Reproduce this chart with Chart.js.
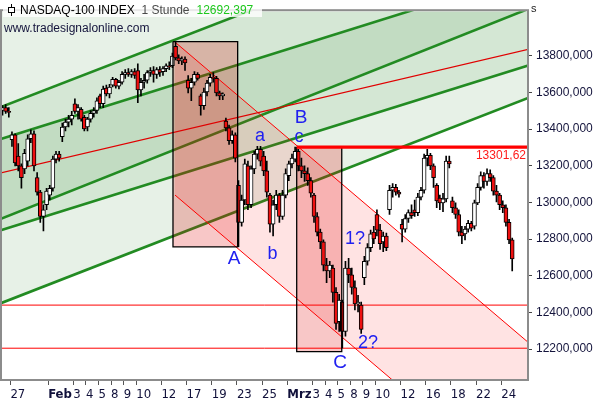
<!DOCTYPE html>
<html><head><meta charset="utf-8">
<script src="https://cdn.jsdelivr.net/npm/chart.js@4.4.0/dist/chart.umd.min.js"></script>
<style>html,body{margin:0;padding:0;background:#fff;}canvas{display:block;}</style>
</head><body>
<canvas id="c" width="600" height="400"></canvas>
<script>
// ---------- axis ticks ----------
const tickDays   = [0, 3, 5, 6, 7, 8, 9, 10, 12, 14, 16, 18, 20, 22, 24, 25, 26, 27, 28, 29, 31, 33, 35, 37, 39];
const tickLabels = ['27','Feb','3','4','5','8','9','10','12','17','19','23','25','Mrz','3','4','5','8','9','10','12','16','18','22','24'];
const priceTicks = [12200, 12400, 12600, 12800, 13000, 13200, 13400, 13600, 13800];

// ---------- hourly candles (4 per trading day, starting late on day -1) ----------
const open = [
 13501,13517,13496,
 13342,13369,13252,13199, 13183,13225,13347,13374, 13135,13056,12923,12987, 13040,13077,13236,13263,
 13358,13411,13438,13454, 13538,13496,13507,13464, 13411,13454,13485,13501, 13581,13538,13623,13591,
 13639,13671,13634,13655, 13698,13708,13698,13713, 13719,13613,13655,13666, 13708,13719,13698,13724,
 13713,13729,13745,13745, 13851,13788,13772,13782, 13666,13623,13655,13698, 13581,13528,13602,13650,
 13682,13676,13597,13581, 13443,13406,13337,13369, 13093,12891,13013,13199, 12987,13183,13263,13289,
 13252,13172,13040,12881, 12987,13040,12923,13040, 13146,13210,13236,13278, 13199,13172,13157,13119,
 13040,12923,12838,12785, 12658,12626,12642,12509, 12350,12456,12297,12642, 12605,12536,12446,12440,
 12589,12679,12753,12838, 12934,12849,12785,12817, 12960,13066,13082,13056, 12881,12854,12912,12944,
 12960,12944,13029,13066, 13241,13257,13199,13093, 13024,12997,13019,13225, 13008,12971,12934,12838,
 12828,12854,12886,12870, 12997,13082,13146,13114, 13157,13135,13061,13040, 12987,12971,12891,12796
];
const high = [
 13528,13533,13517,
 13385,13374,13321,13210, 13289,13369,13395,13390, 13162,13066,12987,13077, 13093,13252,13278,13278,
 13432,13454,13475,13496, 13565,13533,13517,13475, 13464,13501,13517,13570, 13591,13634,13639,13644,
 13682,13676,13666,13713, 13724,13729,13724,13729, 13756,13676,13698,13719, 13735,13740,13735,13740,
 13740,13756,13767,13814, 13875,13804,13793,13793, 13692,13676,13713,13708, 13591,13623,13666,13698,
 13708,13687,13607,13597, 13459,13422,13390,13379, 13119,13040,13236,13225, 13199,13278,13305,13305,
 13278,13225,13050,13013, 13066,13050,13066,13183, 13225,13263,13301.62,13289, 13241,13199,13188,13135,
 13050,12944,12854,12796, 12695,12679,12658,12536, 12499,12467,12679,12695, 12642,12573,12493,12456,
 12706,12775,12849,12870, 12960,12881,12838,12833, 13093,13103,13098,13066, 12907,12934,12960,12987,
 13013,13050,13082,13263, 13289,13268,13210,13103, 13040,13050,13252,13252, 13029,12997,12960,12870,
 12870,12902,12897,13013, 13103,13167,13162,13183, 13178,13146,13093,13050, 13008,12987,12907,12806
];
const low = [
 13475,13485,13464,
 13305,13199,13172,13077, 13157,13199,13326,13172, 13040,12891,12844,12960, 13013,13061,13215,13225,
 13331,13390,13411,13422, 13485,13454,13443,13390, 13390,13438,13464,13485, 13517,13517,13581,13570,
 13629,13623,13618,13644, 13676,13687,13682,13676, 13544,13581,13623,13650, 13687,13655,13676,13687,
 13692,13713,13724,13735, 13777,13756,13751,13719, 13597,13554,13639,13666, 13475,13507,13581,13634,
 13655,13581,13560,13560, 13390,13316,13321,13220, 12759,12870,12987,12960, 12971,13157,13236,13199,
 13146,13029,12838,12817, 12960,12891,12907,13024, 13119,13188,13220,13172, 13135,13114,13093,13029,
 12891,12817,12748,12626, 12562,12589,12456,12308, 12297,12207,12271,12562, 12499,12414,12403,12286,
 12552,12658,12732,12775, 12817,12743,12732,12737, 12934,13029,13040,13029, 12785,12838,12891,12912,
 12923,12928,13013,13050, 13199,13178,13082,12971, 12960,12950,13003,13188, 12944,12912,12817,12775,
 12796,12838,12844,12854, 12987,13066,13077,13093, 13114,13040,13003,12960, 12944,12870,12775,12626
];
const close = [
 13517,13496,13491,
 13369,13215,13199,13135, 13268,13347,13374,13199, 13056,12923,12960,13061, 13077,13236,13263,13241,
 13411,13438,13454,13475, 13496,13517,13454,13401, 13454,13485,13501,13554, 13538,13618,13591,13629,
 13671,13634,13655,13698, 13708,13698,13713,13692, 13613,13655,13666,13708, 13719,13698,13724,13708,
 13729,13745,13740,13798, 13788,13772,13782,13761, 13623,13655,13698,13676, 13528,13602,13650,13682,
 13676,13597,13581,13591, 13406,13337,13369,13241, 12891,13013,13210,12987, 13183,13263,13289,13225,
 13172,13056,12881,12987, 13040,12923,13040,13157, 13210,13241,13278,13199, 13172,13157,13119,13050,
 12923,12838,12785,12658, 12626,12658,12509,12340, 12467,12297,12642,12605, 12536,12446,12456,12308,
 12679,12753,12828,12801, 12849,12775,12817,12753, 13066,13082,13056,13045, 12854,12912,12944,12928,
 12944,13029,13066,13241, 13257,13199,13135,13008, 12997,13019,13225,13210, 12971,12934,12838,12817,
 12854,12886,12859,12997, 13082,13146,13114,13157, 13135,13061,13040,12987, 12971,12891,12796,12692.4
];
const barsPerDay = 4;
const firstSlot = 1;              // first visible slot of day -1
const candleDay = open.map((_, i) => -1 + (i + firstSlot + 0.5) / barsPerDay);

// ---------- drawn lines (day, price) ----------
const lineDays  = [-1, 42];
const greenT    = [13513, 14655];
const greenP1   = [13340, 14264];
const redMid    = [13157, 13848];
const greenQ1   = [12904, 14078];
const greenP2   = [12843, 13765];
const greenQ2   = [12444, 13592];
const downDays  = [13.08, 42];
const downUpper = [13874, 12187];
const downLower = [13040, 11352];
const box1Days  = [12.92, 18.06];
const box1Price = [12757, 13876];
const box2Days  = [22.75, 26.33];
const box2Price = [12186, 13301.62];
const resistance = 13301.62;
const resistanceDays = [22.75, 42];
const supportLevels = [12440, 12205];
const lastValue = 12692.397;

// ---------- wave labels ----------
const waveText  = ['A', 'a', 'b', 'c', 'B', 'C', '1?', '2?'];
const waveDay   = [17.77, 19.83, 20.83, 22.93, 23.09, 26.19, 27.38, 28.41];
const wavePrice = [12695, 13361, 12716, 13358, 13459, 12127, 12798, 12231];
const waveSize  = [19, 18, 18, 18, 19, 19, 18, 18];

// ---------- helpers ----------
function pts(xs, ys) { return xs.map((x, i) => ({x: x, y: ys[i]})); }
function line(xs, ys, o) {
  return Object.assign({type: 'line', data: pts(xs, ys), pointRadius: 0, tension: 0,
    borderWidth: 0, borderColor: 'transparent', fill: false}, o);
}
const datasets = [];
// green bands (fills only)
datasets.push(line(lineDays, greenT,  {fill: 'end', backgroundColor: '#e7f1e7', order: 100}));
datasets.push(line(lineDays, greenP1, {fill: '-1',  backgroundColor: '#d5e7d5', order: 100}));
datasets.push(line(lineDays, greenQ1, {fill: '-1',  backgroundColor: '#c2dcc2', order: 100}));
datasets.push(line(lineDays, greenP2, {fill: '-1',  backgroundColor: '#d4e7d4', order: 100}));
datasets.push(line(lineDays, greenQ2, {fill: '-1',  backgroundColor: '#e7f1e7', order: 100}));
// green strokes
[greenT, greenP1, greenQ1, greenP2, greenQ2].forEach(g =>
  datasets.push(line(lineDays, g, {borderColor: '#228b22', borderWidth: 2.6, order: 95})));
// down channel fill
datasets.push(line(downDays, downUpper, {order: 90}));
datasets.push(line(downDays, downLower, {fill: '-1', backgroundColor: 'rgba(255,0,0,0.11)', order: 90}));
// boxes fill
datasets.push(line(box1Days, [box1Price[0], box1Price[0]], {order: 85}));
datasets.push(line(box1Days, [box1Price[1], box1Price[1]], {fill: '-1', backgroundColor: 'rgba(225,0,0,0.22)', order: 85}));
datasets.push(line(box2Days, [box2Price[0], box2Price[0]], {order: 85}));
datasets.push(line(box2Days, [box2Price[1], box2Price[1]], {fill: '-1', backgroundColor: 'rgba(225,0,0,0.22)', order: 85}));
// thin red lines
datasets.push(line(lineDays, redMid, {borderColor: '#e00000', borderWidth: 1.1, order: 70}));
datasets.push(line(downDays, downUpper, {borderColor: '#ff0000', borderWidth: 1, order: 70}));
datasets.push(line(downDays, downLower, {borderColor: '#ff0000', borderWidth: 1, order: 70}));
supportLevels.forEach(s =>
  datasets.push(line(lineDays, [s, s], {borderColor: '#ff0000', borderWidth: 1, order: 70})));
// candles
datasets.push({type: 'bar', grouped: false, order: 60, barThickness: 1,
  data: candleDay.map((d, i) => ({x: d, y: [low[i], high[i]]})),
  backgroundColor: '#000', borderWidth: 0});
datasets.push({type: 'bar', grouped: false, order: 55, barThickness: 4,
  data: candleDay.map((d, i) => ({x: d, y: [open[i], close[i]]})),
  backgroundColor: close.map((c, i) => c >= open[i] ? '#ffffff' : '#ee1010'),
  borderColor: '#000', borderWidth: 1, borderSkipped: false});
// box borders
[[box1Days, box1Price], [box2Days, box2Price]].forEach(([bx, by]) =>
  datasets.push(line([bx[0], bx[1], bx[1], bx[0], bx[0]], [by[1], by[1], by[0], by[0], by[1]],
    {borderColor: '#000', borderWidth: 1.3, order: 50})));
// resistance
datasets.push(line(resistanceDays, [resistance, resistance], {borderColor: '#ff0000', borderWidth: 3.2, order: 45}));

const fmt = v => v.toFixed(3).replace('.', ',');
const narrow = '"Liberation Sans Narrow", "Arial Narrow", "DejaVu Sans Condensed", sans-serif';
const sans = '"Liberation Sans", Arial, sans-serif';

const deco = {
  id: 'deco',
  afterDatasetsDraw(chart) {
    const {ctx, scales: {x, y}, chartArea: a} = chart;
    ctx.save();
    ctx.fillStyle = '#2020f0';
    ctx.textAlign = 'center';
    ctx.textBaseline = 'middle';
    waveText.forEach((t, i) => {
      ctx.font = waveSize[i] + 'px ' + sans;
      ctx.fillText(t, x.getPixelForValue(waveDay[i]), y.getPixelForValue(wavePrice[i]));
    });
    ctx.font = '12px ' + sans;
    ctx.fillStyle = '#ff1a1a';
    ctx.textAlign = 'right';
    ctx.textBaseline = 'alphabetic';
    ctx.fillText(resistance.toFixed(2).replace('.', ','), a.right - 1, y.getPixelForValue(resistance) + 12);
    ctx.restore();
  },
  afterDraw(chart) {
    const {ctx, chartArea: a} = chart;
    ctx.save();
    // frame
    ctx.strokeStyle = '#8c8c8c';
    ctx.lineWidth = 2;
    ctx.strokeRect(a.left - 1, a.top - 1, a.right - a.left + 2, a.bottom - a.top + 2);
    // title box
    ctx.fillStyle = 'rgba(255,255,255,0.8)';
    ctx.fillRect(3, 2, 259, 15);
    // candle icon
    ctx.strokeStyle = '#000'; ctx.lineWidth = 1;
    ctx.beginPath(); ctx.moveTo(11.5, 4); ctx.lineTo(11.5, 16); ctx.stroke();
    ctx.fillStyle = '#fff';
    ctx.fillRect(8, 7, 7, 6); ctx.strokeRect(8.5, 7.5, 6, 5);
    ctx.font = '12px ' + sans;
    ctx.textBaseline = 'alphabetic';
    ctx.textAlign = 'left';
    ctx.fillStyle = '#000';
    ctx.fillText('NASDAQ-100 INDEX', 20, 14);
    ctx.fillStyle = '#4a4a4a';
    ctx.fillText('1 Stunde', 141.5, 14);
    ctx.fillStyle = '#1ec81e';
    ctx.fillText(fmt(lastValue), 196.5, 14);
    ctx.fillStyle = '#14143c';
    ctx.fillText('www.tradesignalonline.com', 4, 32);
    ctx.font = '11px ' + sans;
    ctx.fillStyle = '#222';
    ctx.fillText('s', 531, 12);
    ctx.restore();
  }
};

new Chart(document.getElementById('c'), {
  type: 'bar',
  data: {datasets: datasets},
  options: {
    responsive: false,
    animation: false,
    events: [],
    layout: {padding: {left: 2, top: 1, right: 0, bottom: 0}},
    plugins: {legend: {display: false}, tooltip: {enabled: false}, filler: {propagate: false}},
    scales: {
      x: {
        type: 'linear', offset: false, min: -0.667, max: 41.05,
        afterBuildTicks: s => { s.ticks = tickDays.map(v => ({value: v})); },
        afterFit: s => { s.height = 21; },
        grid: {drawOnChartArea: false, drawTicks: true, tickLength: 6, tickColor: '#555', offset: false},
        border: {display: false},
        ticks: {
          autoSkip: false, maxRotation: 0, minRotation: 0, align: 'start', padding: 2,
          color: '#10103a',
          font: ctx => ({family: narrow, size: 13,
            weight: (tickLabels[ctx.index] === 'Feb' || tickLabels[ctx.index] === 'Mrz') ? 'bold' : 'normal'}),
          callback: (v, i) => tickLabels[i]
        }
      },
      y: {
        type: 'linear', position: 'right', min: 12037.1, max: 14042.4,
        afterBuildTicks: s => { s.ticks = priceTicks.map(v => ({value: v})); },
        afterFit: s => { s.width = 73; },
        grid: {drawOnChartArea: false, drawTicks: true, tickLength: 5, tickColor: '#444'},
        border: {display: false},
        ticks: {padding: 4, color: '#14143c', font: {family: sans, size: 12}, callback: v => fmt(v)}
      }
    }
  },
  plugins: [deco]
});
</script>
</body></html>
